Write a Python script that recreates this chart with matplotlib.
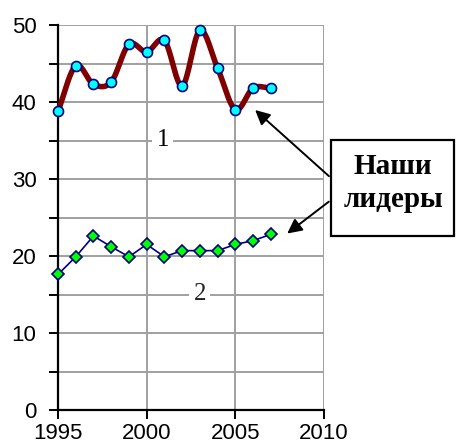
import numpy as np
import matplotlib.pyplot as plt
from matplotlib.patches import Rectangle

years = [1995, 1996, 1997, 1998, 1999, 2000, 2001, 2002, 2003, 2004, 2005, 2006, 2007]
series1 = [38.8, 44.7, 42.3, 42.6, 47.5, 46.5, 48.0, 42.1, 49.3, 44.4, 39.0, 41.8, 41.8]
series2 = [17.6, 19.9, 22.6, 21.2, 19.9, 21.5, 19.9, 20.7, 20.7, 20.7, 21.5, 22.0, 22.8]
box_text = "Наши\nлидеры"


def smooth(x, y, steps=20):
    # catmull-rom through the data points, like excel's smoothed line
    x = np.asarray(x, float)
    y = np.asarray(y, float)
    px = np.concatenate([[2 * x[0] - x[1]], x, [2 * x[-1] - x[-2]]])
    py = np.concatenate([[2 * y[0] - y[1]], y, [2 * y[-1] - y[-2]]])
    xs, ys = [], []
    t = np.linspace(0, 1, steps, endpoint=False)
    for i in range(1, len(px) - 2):
        for p, out in ((px, xs), (py, ys)):
            p0, p1, p2, p3 = p[i - 1], p[i], p[i + 1], p[i + 2]
            out.extend(0.5 * (2 * p1 + (-p0 + p2) * t
                              + (2 * p0 - 5 * p1 + 4 * p2 - p3) * t ** 2
                              + (-p0 + 3 * p1 - 3 * p2 + p3) * t ** 3))
    xs.append(x[-1])
    ys.append(y[-1])
    return xs, ys


fig = plt.figure(figsize=(4.58, 4.47), dpi=100)
ax = fig.add_axes([58 / 458, 1 - 410 / 447, 266 / 458, 385 / 447])

sx, sy = smooth(years, series1)
ax.plot(sx, sy, color='#800000', lw=4, solid_capstyle='round', zorder=3, clip_on=False)
ax.plot(years, series1, 'o', ms=7.2, mfc='#00FFFF', mec='#000080', mew=1.2, zorder=4,
        clip_on=False)
ax.plot(years, series2, '-D', color='#000080', lw=1.2, ms=6.5, mfc='#00FF00',
        mec='#000080', mew=1.2, zorder=4, clip_on=False)

ax.set_xlim(1995, 2010)
ax.set_ylim(0, 50)
ax.set_xticks([1995, 2000, 2005, 2010])
ax.set_yticks([0, 10, 20, 30, 40, 50])
ax.set_yticks(np.arange(5, 50, 10), minor=True)
ax.grid(True, which='both', color='#a0a0a0', lw=1.4)
ax.set_axisbelow(True)
for s in ('top', 'right'):
    ax.spines[s].set_visible(False)
for s in ('left', 'bottom'):
    ax.spines[s].set_linewidth(1.6)
ax.tick_params(which='both', direction='out', length=6.5, width=1.4,
               labelsize=16, colors='black')
ax.tick_params(axis='x', pad=3)
ax.tick_params(axis='y', pad=9)
for lab in ax.get_xticklabels() + ax.get_yticklabels():
    lab.set_fontfamily('Liberation Sans')

ax.text(2000.9, 35, "1", family='Liberation Serif', fontsize=18, ha='center', va='center',
        bbox=dict(facecolor='white', edgecolor='none', pad=3), zorder=2)
ax.text(2003.0, 15, "2", family='Liberation Serif', fontsize=18, ha='center', va='center',
        color='#222222', bbox=dict(facecolor='white', edgecolor='none', pad=3), zorder=2)

fig.patches.append(Rectangle((331 / 458, 1 - 236 / 447), 123 / 458, 96 / 447,
                             transform=fig.transFigure, fill=False, lw=1.6,
                             edgecolor='black'))
fig.text(393 / 458, 1 - 183 / 447, box_text, family='Liberation Serif',
         fontweight='bold', fontsize=21, ha='center', va='center', linespacing=1.25)

arrow = dict(arrowstyle='-|>', color='black', lw=1.4, mutation_scale=22)
ax.annotate("", xy=(2006.0, 39.2), xytext=(331 / 458, 1 - 178 / 447),
            textcoords='figure fraction', arrowprops=arrow)
ax.annotate("", xy=(2007.8, 22.7), xytext=(331 / 458, 1 - 200 / 447),
            textcoords='figure fraction', arrowprops=arrow)

fig.savefig("out.png", dpi=100)
